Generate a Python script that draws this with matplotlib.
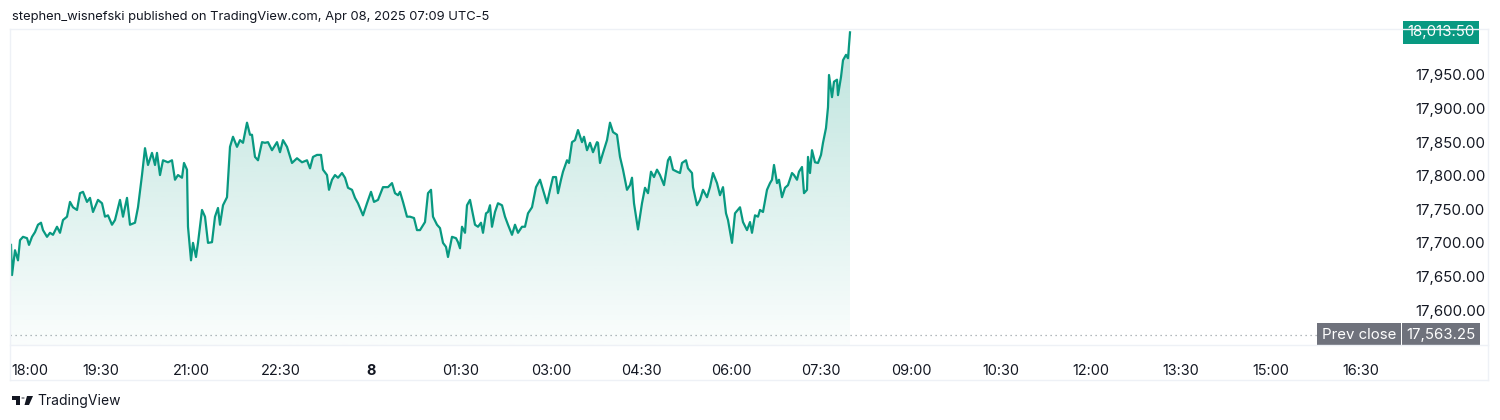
import numpy as np
import matplotlib.pyplot as plt
from matplotlib.patches import Polygon, Circle
from matplotlib.transforms import blended_transform_factory

plt.rcParams['font.family'] = ['Inter', 'DejaVu Sans']

# minutos desde las 18:00 (7 abr) y precio del contrato
minutos = [0, 1, 4, 7, 9, 12, 16, 18, 21, 24, 27, 30, 32, 36, 39, 42, 46, 49, 52, 56,
           59, 62, 66, 69, 72, 76, 79, 82, 87, 91, 94, 97, 101, 104, 109, 112, 116, 119, 124, 127,
           131, 134, 137, 141, 144, 146, 149, 152, 157, 161, 164, 167, 171, 173, 176, 177, 180, 182, 185, 187,
           191, 194, 197, 201, 204, 207, 209, 212, 216, 219, 222, 226, 229, 232, 236, 239, 241, 244, 247, 251,
           254, 257, 261, 266, 269, 272, 276, 281, 286, 291, 296, 299, 302, 306, 310, 312, 316, 318, 321, 324,
           327, 331, 334, 337, 341, 344, 347, 352, 356, 360, 363, 367, 372, 377, 381, 384, 387, 389, 392, 396,
           399, 403, 406, 409, 414, 417, 420, 422, 426, 429, 432, 435, 437, 441, 445, 447, 449, 451, 454, 456,
           459, 461, 464, 467, 470, 472, 475, 477, 479, 481, 484, 487, 491, 494, 497, 501, 504, 507, 511, 514,
           517, 521, 525, 529, 532, 536, 539, 542, 545, 547, 550, 552, 556, 558, 561, 564, 567, 571, 573, 576,
           579, 582, 586, 587, 589, 592, 596, 599, 602, 606, 609, 612, 616, 619, 621, 623, 627, 631, 634, 637,
           640, 643, 646, 649, 653, 657, 659, 662, 666, 669, 671, 675, 677, 681, 682, 686, 689, 692, 696, 699,
           702, 706, 709, 712, 715, 717, 721, 724, 729, 732, 736, 739, 741, 744, 747, 749, 752, 756, 759, 761,
           763, 766, 768, 771, 774, 777, 781, 783, 786, 788, 791, 793, 796, 797, 799, 801, 804, 807, 810, 812,
           815, 817, 818, 821, 823, 826, 827, 830, 832, 835, 837, 839]
precios = [17697, 17652, 17689, 17674, 17704, 17709, 17707, 17697, 17709, 17716,
           17727, 17730, 17719, 17709, 17715, 17712, 17724, 17715, 17734, 17739,
           17761, 17753, 17749, 17774, 17776, 17761, 17767, 17746, 17764, 17759,
           17739, 17741, 17727, 17734, 17764, 17739, 17767, 17727, 17730, 17753,
           17801, 17841, 17816, 17834, 17816, 17834, 17801, 17823, 17820, 17823,
           17794, 17801, 17797, 17819, 17809, 17724, 17674, 17700, 17679, 17700,
           17749, 17739, 17700, 17701, 17739, 17752, 17727, 17756, 17768, 17843,
           17858, 17843, 17853, 17849, 17879, 17861, 17861, 17828, 17823, 17850,
           17849, 17850, 17838, 17850, 17835, 17853, 17843, 17819, 17826, 17820,
           17823, 17811, 17828, 17831, 17831, 17809, 17801, 17779, 17794, 17801,
           17797, 17804, 17797, 17782, 17779, 17767, 17759, 17741, 17759, 17776,
           17761, 17764, 17783, 17783, 17789, 17774, 17771, 17776, 17761, 17739,
           17739, 17737, 17719, 17719, 17731, 17774, 17779, 17739, 17727, 17722,
           17700, 17694, 17679, 17709, 17707, 17701, 17692, 17724, 17715, 17756,
           17764, 17749, 17727, 17724, 17730, 17715, 17744, 17746, 17756, 17724,
           17746, 17759, 17756, 17739, 17727, 17712, 17727, 17715, 17724, 17724,
           17744, 17753, 17783, 17794, 17779, 17759, 17779, 17798, 17798, 17774,
           17794, 17806, 17823, 17819, 17850, 17853, 17868, 17850, 17858, 17838,
           17849, 17835, 17850, 17849, 17819, 17834, 17853, 17879, 17865, 17861,
           17828, 17809, 17779, 17786, 17797, 17759, 17720, 17759, 17782, 17774,
           17806, 17798, 17809, 17801, 17786, 17823, 17828, 17809, 17806, 17804,
           17819, 17823, 17811, 17804, 17783, 17756, 17764, 17779, 17768, 17783,
           17804, 17789, 17771, 17783, 17744, 17734, 17700, 17744, 17753, 17731,
           17719, 17731, 17715, 17741, 17739, 17749, 17746, 17779, 17789, 17794,
           17816, 17789, 17794, 17768, 17782, 17786, 17804, 17801, 17794, 17806,
           17813, 17774, 17779, 17828, 17804, 17838, 17820, 17819, 17831, 17849,
           17871, 17902, 17950, 17917, 17940, 17943, 17920, 17947, 17972, 17980,
           17975, 18013.5]

ticks_min = [0, 90, 180, 270, 360, 450, 540, 630, 720, 810, 900, 990, 1080, 1170, 1260, 1350]
ticks_txt = ['18:00', '19:30', '21:00', '22:30', '8', '01:30', '03:00', '04:30', '06:00',
             '07:30', '09:00', '10:30', '12:00', '13:30', '15:00', '16:30']
ticks_precio = [17600, 17650, 17700, 17750, 17800, 17850, 17900, 17950]
ultimo = 18013.50
cierre_prev = 17563.25

verde = '#089981'
texto = '#131722'
borde = '#eef1f6'
gris = '#6f727c'
W, H = 1500, 420
fs_precio = 10.8

fig = plt.figure(figsize=(15, 4.2), dpi=100)
ax = fig.add_axes([10 / W, 1 - 345 / H, 1385 / W, 316 / H])

ax.plot(minutos, precios, color=verde, lw=1.6, solid_joinstyle='round', zorder=3)

# relleno degradado bajo la linea
relleno = ax.fill_between(minutos, precios, 17547.9, color='none', lw=0)
grad = np.linspace(0.27, 0.02, 256).reshape(-1, 1)
rgba = np.zeros((256, 1, 4))
rgba[..., :3] = np.array([8, 153, 129]) / 255
rgba[..., 3] = grad
img = ax.imshow(rgba, extent=[0, 839, 17547.9, 18018.5], aspect='auto', zorder=2, origin='upper')
img.set_clip_path(relleno.get_paths()[0], transform=ax.transData)
ax.set_xlim(-1, 1384)
ax.set_ylim(17547.9, 18018.5)

# linea de cierre previo
ax.plot([-1, 1310], [cierre_prev, cierre_prev], color='#9aa3a8', lw=0.9,
        ls=(0, (1, 3)), zorder=1)

for s in ax.spines.values():
    s.set_visible(False)

ax.set_yticks(ticks_precio)
ax.set_yticklabels([f'{v:,.2f}' for v in ticks_precio])
ax.tick_params(axis='y', left=False, labelleft=False, right=False, labelright=True,
               pad=11, labelsize=fs_precio, labelcolor=texto)
ax.set_xticks(ticks_min)
ax.set_xticklabels(ticks_txt)
ax.tick_params(axis='x', length=0, pad=14, labelsize=10.4, labelcolor=texto)
for lab in ax.get_xticklabels():
    if lab.get_text() == '8':
        lab.set_fontweight('bold')
    if lab.get_text() == '18:00':
        lab.set_horizontalalignment('left')

# etiquetas de precio en la escala
tr = blended_transform_factory(fig.transFigure, ax.transData)
caja = dict(boxstyle='square,pad=0.3', ec='none')
ax.text(1441 / W, ultimo, f'{ultimo:,.2f}', transform=tr, ha='center', va='center',
        color='white', fontsize=fs_precio, clip_on=False, bbox=dict(caja, fc=verde))
ax.text(1441 / W, cierre_prev, f'{cierre_prev:,.2f}', transform=tr, ha='center', va='center',
        color='white', fontsize=fs_precio, clip_on=False, bbox=dict(caja, fc=gris))
ax.text(1359 / W, cierre_prev, 'Prev close', transform=tr, ha='center', va='center',
        color='white', fontsize=fs_precio, clip_on=False, bbox=dict(caja, fc=gris))

# bordes del panel
def px(x, y):
    return x / W, 1 - y / H

for (x0, y0), (x1, y1) in [((10, 29), (1488, 29)), ((10, 380), (1488, 380)),
                           ((10, 345), (1488, 345)), ((10, 29), (10, 380)),
                           ((1488, 29), (1488, 380))]:
    a, b = px(x0, y0)
    c, d = px(x1, y1)
    fig.add_artist(plt.Line2D([a, c], [b, d], color=borde, lw=1, transform=fig.transFigure))

fig.text(*px(12, 17), 'stephen_wisnefski published on TradingView.com, Apr 08, 2025 07:09 UTC-5',
         ha='left', va='center', fontsize=9.35, color=texto)

# logo
logo = [Polygon([px(12, 396), px(20, 396), px(20, 405), px(16, 405), px(16, 399.5), px(12, 399.5)]),
        Polygon([px(27, 396), px(33, 396), px(29, 405), px(24.5, 405)])]
for p in logo:
    p.set_transform(fig.transFigure)
    p.set_facecolor(texto)
    p.set_edgecolor('none')
    fig.add_artist(p)
c = Circle(px(23, 398), 1.7 / W, transform=fig.transFigure, fc=texto, ec='none')
fig.add_artist(c)
fig.text(*px(37, 401), 'TradingView', ha='left', va='center', fontsize=10, color=texto)

fig.savefig('out.png', dpi=100, facecolor='white')
